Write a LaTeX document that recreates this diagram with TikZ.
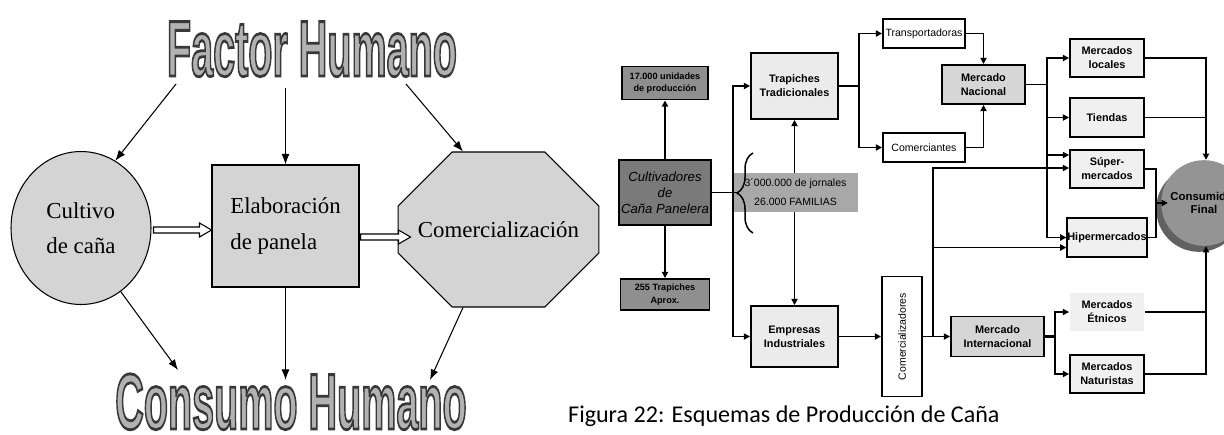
\documentclass[tikz,border=0pt]{standalone}
\usepackage{fontspec}
\setmainfont{Liberation Serif}
\setsansfont{Liberation Sans}
\newfontfamily\capfont{Carlito}
\usetikzlibrary{arrows.meta, shapes.geometric, shapes.misc, shadows, decorations.pathreplacing}

\definecolor{fondo}{HTML}{D4D4D4}
\definecolor{oscuro}{HTML}{7A7A7A}
\definecolor{medio}{HTML}{8F8F8F}
\definecolor{claro}{HTML}{EBEBEB}
\definecolor{nivel}{HTML}{D6D6D6}
\definecolor{tienda}{HTML}{F0F0F0}
\definecolor{jornal}{HTML}{A8A8A8}

\newcommand{\wordart}[1]{\scalebox{0.5}[1]{\special{pdf:literal direct 2 Tr 1.6 w 0.22 0.22 0.22 RG 0.7 0.7 0.7 rg}#1\special{pdf:literal direct 0 Tr 0 0 0 RG 0 0 0 rg}}}

\tikzset{
	palabra/.style={font=\sffamily\bfseries\fontsize{45}{45}\selectfont, inner sep=0pt, anchor=base},
	etapa/.style={draw, line width=0.6pt, fill=fondo, align=left, font=\fontsize{13}{20}\selectfont},
	flecha/.style={-{Latex[length=6pt,width=4.5pt]}, line width=0.6pt},
	hueca/.style={draw, line width=0.6pt, fill=white},
	caja/.style={draw, line width=1.1pt, align=center, inner sep=1pt, font=\sffamily\bfseries\fontsize{6.2}{8}\selectfont},
	chica/.style={caja, font=\sffamily\bfseries\fontsize{5.2}{7}\selectfont},
	fina/.style={caja, fill=white, font=\sffamily\fontsize{6}{8}\selectfont},
	linea/.style={line width=0.85pt},
	flechita/.style={linea, -{Triangle[length=3.5pt,width=3.5pt]}},
	dobleflecha/.style={linea, {Triangle[length=3.5pt,width=3.5pt]}-{Triangle[length=3.5pt,width=3.5pt]}}
}

\begin{document}
\begin{tikzpicture}[x=0.02cm, y=-0.02cm]

	\useasboundingbox (0,0) rectangle (1224,434);
	\clip (0,0) rectangle (1224,434);

	\node[palabra] (fh) at (312,76) {\wordart{Factor Humano}};
	\node[palabra] (ch) at (291,429) {\wordart{Consumo Humano}};

	\node[etapa, ellipse, minimum width=2.8cm, minimum height=3.06cm] (cult) at (81,228) {Cultivo\\de caña};
	\node[etapa, minimum width=2.94cm, minimum height=2.44cm] (elab) at (285.5,226) {Elaboración\\de panela};
	\node[etapa, chamfered rectangle, chamfered rectangle xsep=0.78cm, chamfered rectangle ysep=0.8cm, minimum width=3.54cm, minimum height=3.1cm] (com) at (498.5,229.5) {Comercialización};

	\coordinate (fh1) at (176,84);
	\coordinate (fh2) at (285.5,88);
	\coordinate (fh3) at (406,84);
	\coordinate (ch1) at (178,370);
	\coordinate (ch2) at (285.5,380);
	\coordinate (ch3) at (430,380);

	\draw[flecha] (fh1) -- (cult.63);
	\draw[flecha] (fh2) -- (elab.north);
	\draw[flecha] (fh3) -- ([xshift=-0.71cm]com.north);
	\draw[flecha] (cult.-58) -- (ch1);
	\draw[flecha] (elab.south) -- (ch2);
	\draw[flecha] ([xshift=-0.71cm]com.south) -- (ch3);

	\draw[hueca] ([yshift=-0.04cm]cult.east) ++(2,-3) -- ++(46,0) -- ++(0,-4) -- ++(12,7) -- ++(-12,7) -- ++(0,-4) -- ++(-46,0) -- cycle;
	\draw[hueca] ([yshift=-0.22cm]elab.east) ++(1,-3) -- ++(38,0) -- ++(0,-4) -- ++(12,7) -- ++(-12,7) -- ++(0,-4) -- ++(-38,0) -- cycle;

	\node[chica, fill=medio, minimum width=1.72cm, minimum height=0.66cm] (u17) at (665,83) {17.000 unidades\\de producción};
	\node[caja, fill=oscuro, minimum width=1.82cm, minimum height=1.3cm, font=\sffamily\itshape\fontsize{7.5}{9}\selectfont] (cultiv) at (665,192.5) {Cultivadores\\de\\Caña Panelera};
	\node[chica, fill=medio, minimum width=1.78cm, minimum height=0.62cm] (t255) at (665,294.5) {255 Trapiches\\Aprox.};

	\node[caja, fill=claro, minimum width=1.74cm, minimum height=1.32cm] (trap) at (794.5,86) {Trapiches\\Tradicionales};
	\node[caja, fill=claro, minimum width=1.74cm, minimum height=1.22cm] (emp) at (794.5,336.5) {Empresas\\Industriales};

	\node[fina, minimum width=1.64cm, minimum height=0.58cm] (transp) at (924,33.5) {Transportadoras};
	\node[fina, minimum width=1.64cm, minimum height=0.58cm] (comerc) at (924,147.5) {Comerciantes};
	\node[caja, fill=nivel, minimum width=1.66cm, minimum height=0.78cm] (nac) at (983.5,84.5) {Mercado\\Nacional};

	\node[fina, minimum width=0.8cm, minimum height=2.4cm] (comz) at (902,336.5) {};
	\node[rotate=90, font=\sffamily\fontsize{6}{8}\selectfont] (comzt) at (comz.center) {Comercializadores};
	\node[caja, fill=nivel, minimum width=1.86cm, minimum height=0.8cm] (inter) at (997.5,336.5) {Mercado\\Internacional};

	\node[caja, fill=tienda, minimum width=1.48cm, minimum height=0.76cm] (loc) at (1107,58) {Mercados\\locales};
	\node[caja, fill=tienda, minimum width=1.48cm, minimum height=0.78cm] (tie) at (1107,117.5) {Tiendas};
	\node[caja, fill=tienda, minimum width=1.48cm, minimum height=0.76cm] (sup) at (1107,169) {Súper-\\mercados};
	\node[caja, fill=tienda, minimum width=1.48cm, minimum height=0.78cm, inner sep=0pt] (hip) at (1107,237.5) {Hipermercados};
	\node[caja, draw=none, fill=tienda, minimum width=1.48cm, minimum height=0.76cm] (etn) at (1107,312) {Mercados\\Étnicos};
	\node[caja, fill=tienda, minimum width=1.48cm, minimum height=0.76cm] (nat) at (1107,374) {Mercados\\Naturistas};

	\node[circle, fill=black!42, minimum size=1.52cm, font=\sffamily\bfseries\fontsize{6.5}{7.5}\selectfont, align=center, drop shadow={shadow xshift=-0.1cm, shadow yshift=-0.12cm, fill=black!62, opacity=1}] (cons) at (1204,203) {Consumidor\\Final};

	\coordinate (sp) at (733,192.5);
	\coordinate (bt) at (737,192.5);
	\coordinate (tr) at (859,86);
	\coordinate (nx) at (1047,84.5);
	\coordinate (cx) at (933,336.5);
	\coordinate (ix) at (1055,336.5);
	\coordinate (sx) at (1156,203);
	\coordinate (rv) at (1206,203);

	\draw[flechita] (cultiv.north) -- (u17.south);
	\draw[flechita] (cultiv.south) -- (t255.north);
	\draw[dobleflecha] (trap.south) -- (emp.north);

	\node[fill=jornal, minimum width=2.5cm, minimum height=0.78cm, align=center, font=\sffamily\fontsize{6}{10.8}\selectfont] (jorn) at (795.5,192.5) {3´000.000 de jornales\\26.000 FAMILIAS};

	\draw[linea] (cultiv.east) -- (bt);
	\draw[flechita] (sp) |- (trap.west);
	\draw[flechita] (sp) |- (emp.west);
	\draw[linea, decorate, decoration={brace, amplitude=0.32cm}] (753,233) -- (753,153);

	\draw[linea] (trap.east) -- (tr);
	\draw[flechita] (tr) |- (transp.west);
	\draw[flechita] (tr) |- (comerc.west);
	\draw[flechita] (transp.east) -| (nac.north);
	\draw[flechita] (comerc.east) -| (nac.south);

	\draw[linea] (nac.east) -- (nx);
	\draw[flechita] (nx) |- (loc.west);
	\draw[flechita] (nx) |- (tie.west);
	\draw[flechita] (nx) |- ([yshift=0.28cm]sup.west);
	\draw[flechita] (nx) |- (hip.west);

	\draw[flechita] (emp.east) -- (comz.west);
	\draw[flechita] (comz.east) -- (inter.west);
	\draw[flechita] (cx) |- ([yshift=0.02cm]sup.west);
	\draw[flechita] (cx) |- ([yshift=-0.2cm]hip.west);

	\draw[line width=2pt] (inter.east) -- (ix);
	\draw[flechita] (ix) |- (etn.west);
	\draw[flechita] (ix) |- (nat.west);

	\draw[flechita] (loc.east) -| (rv |- cons.north);
	\draw[linea] (tie.east) -- (tie.east -| rv);
	\draw[linea] (etn.east) -- (etn.east -| rv);
	\draw[flechita] (nat.east) -| (rv |- cons.south);
	\draw[linea] (sup.east) -| (sx |- hip.east) -- (hip.east);
	\draw[flechita] (sx) -- ([xshift=0.14cm]cons.west);

	\node[anchor=base west, font=\capfont\fontsize{13.7}{16}\selectfont] (cap) at (562,422) {Figura 22: Esquemas de Producción de Caña};

\end{tikzpicture}
\end{document}
